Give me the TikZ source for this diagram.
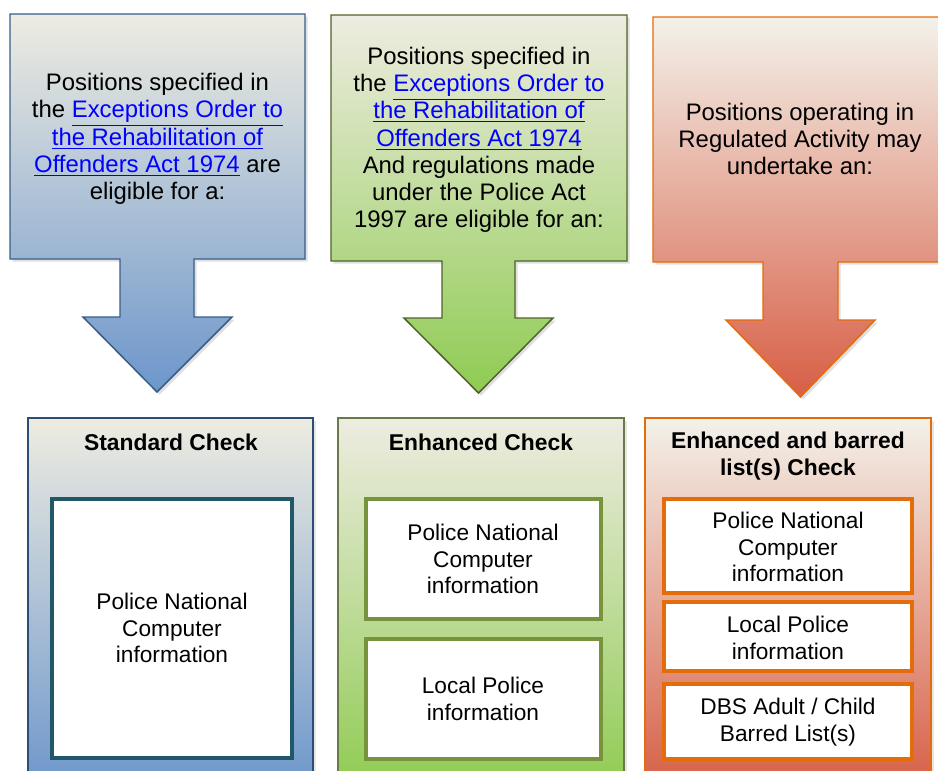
\documentclass[tikz,border=0pt]{standalone}
\usepackage{fontspec}
\setmainfont{Liberation Sans}
\usetikzlibrary{shadows}

\definecolor{paletop}{HTML}{EEECE1}
\definecolor{bluebot}{HTML}{6C96CB}
\definecolor{blueline}{HTML}{385D8A}
\definecolor{bluedark}{HTML}{2C4D75}
\definecolor{tealline}{HTML}{215868}
\definecolor{greenbot}{HTML}{8FCB52}
\definecolor{greenline}{HTML}{4F6228}
\definecolor{oliveline}{HTML}{77933C}
\definecolor{redbot}{HTML}{D75E45}
\definecolor{orangeline}{HTML}{E46C0A}
\definecolor{linkblue}{HTML}{0000FF}

\newcommand{\lnk}[1]{\textcolor{linkblue}{\underline{#1}}}

\tikzset{
  callout/.style={line width=0.85pt, drop shadow={opacity=0.25, shadow xshift=1.5pt, shadow yshift=-1.5pt}},
  panel/.style={line width=0.85pt, drop shadow={opacity=0.2, shadow xshift=1.5pt, shadow yshift=-1.5pt}},
  infobox/.style={line width=2.3pt, fill=white},
  headtxt/.style={align=center, font=\fontsize{13.6}{15.5}\selectfont},
  titletxt/.style={align=center, font=\fontsize{13}{15.3}\selectfont\bfseries},
  boxtxt/.style={align=center, font=\fontsize{12.9}{15}\selectfont}
}

\begin{document}
\begin{tikzpicture}[x=0.02cm, y=-0.02cm]
		\useasboundingbox (0,0) rectangle (938,771);
		\clip (0,0) rectangle (938,771);
		
		%%%%% CALLOUTS %%%%%
		
		\draw[callout, draw=blueline, top color=paletop, bottom color=bluebot]
			(10,14) -- (305,14) -- (305,259) -- (194,259) -- (194,317) -- (232,317)
			-- (157,392) -- (83,317) -- (120,317) -- (120,259) -- (10,259) -- cycle;
		\node[headtxt] (stdtxt) at (157.5,139) {Positions specified in\\
			the \lnk{Exceptions Order to}\\
			\lnk{the Rehabilitation of}\\
			\lnk{Offenders Act 1974} are\\
			eligible for a:};
		
		\draw[callout, draw=greenline, top color=paletop, bottom color=greenbot]
			(331,15) -- (627,15) -- (627,261) -- (515,261) -- (515,318) -- (553,318)
			-- (478.5,393) -- (404,318) -- (442,318) -- (442,261) -- (331,261) -- cycle;
		\node[headtxt] (enhtxt) at (479,140) {Positions specified in\\
			the \lnk{Exceptions Order to}\\
			\lnk{the Rehabilitation of}\\
			\lnk{Offenders Act 1974}\\
			And regulations made\\
			under the Police Act\\
			1997 are eligible for an:};
		
		\draw[callout, draw=orangeline, top color=paletop!70!white, middle color=redbot!35!paletop, bottom color=redbot]
			(653,17) -- (947,17) -- (947,262) -- (838,262) -- (838,320) -- (875,320)
			-- (800.5,397) -- (726,320) -- (763,320) -- (763,262) -- (653,262) -- cycle;
		\node[headtxt] (regtxt) at (800,139) {Positions operating in\\
			Regulated Activity may\\
			undertake an:};
		
		%%%%% CHECKS %%%%%
		
		\draw[panel, draw=bluedark, top color=paletop, bottom color=bluebot] (28,418) rectangle (313,790);
		\node[titletxt] (stdtitle) at (171,442) {Standard Check};
		\draw[infobox, draw=tealline] (52,499) rectangle (292,758);
		\node[boxtxt] (stdpnc) at (172,628) {Police National\\Computer\\information};
		
		\draw[panel, draw=greenline!85!white, top color=paletop, bottom color=greenbot] (338,418) rectangle (624,790);
		\node[titletxt] (enhtitle) at (481,442) {Enhanced Check};
		\draw[infobox, draw=oliveline] (366,499) rectangle (601,619);
		\node[boxtxt] (enhpnc) at (483,559) {Police National\\Computer\\information};
		\draw[infobox, draw=oliveline] (366,639) rectangle (601,759);
		\node[boxtxt] (enhlocal) at (483,699) {Local Police\\information};
		
		\draw[panel, draw=orangeline, top color=paletop!70!white, middle color=redbot!35!paletop, bottom color=redbot] (645,418) rectangle (931,790);
		\node[titletxt] (bartitle) at (788,456.5) {Enhanced and barred\\list(s) Check};
		\draw[infobox, draw=orangeline] (664,499) rectangle (912,593);
		\node[boxtxt] (barpnc) at (788,547) {Police National\\Computer\\information};
		\draw[infobox, draw=orangeline] (664,602) rectangle (912,671);
		\node[boxtxt] (barlocal) at (788,638) {Local Police\\information};
		\draw[infobox, draw=orangeline] (664,684) rectangle (912,759);
		\node[boxtxt] (barlist) at (788,722) {DBS Adult / Child\\Barred List(s)};
		
		%%%%% END %%%%%
	\end{tikzpicture}
\end{document}
